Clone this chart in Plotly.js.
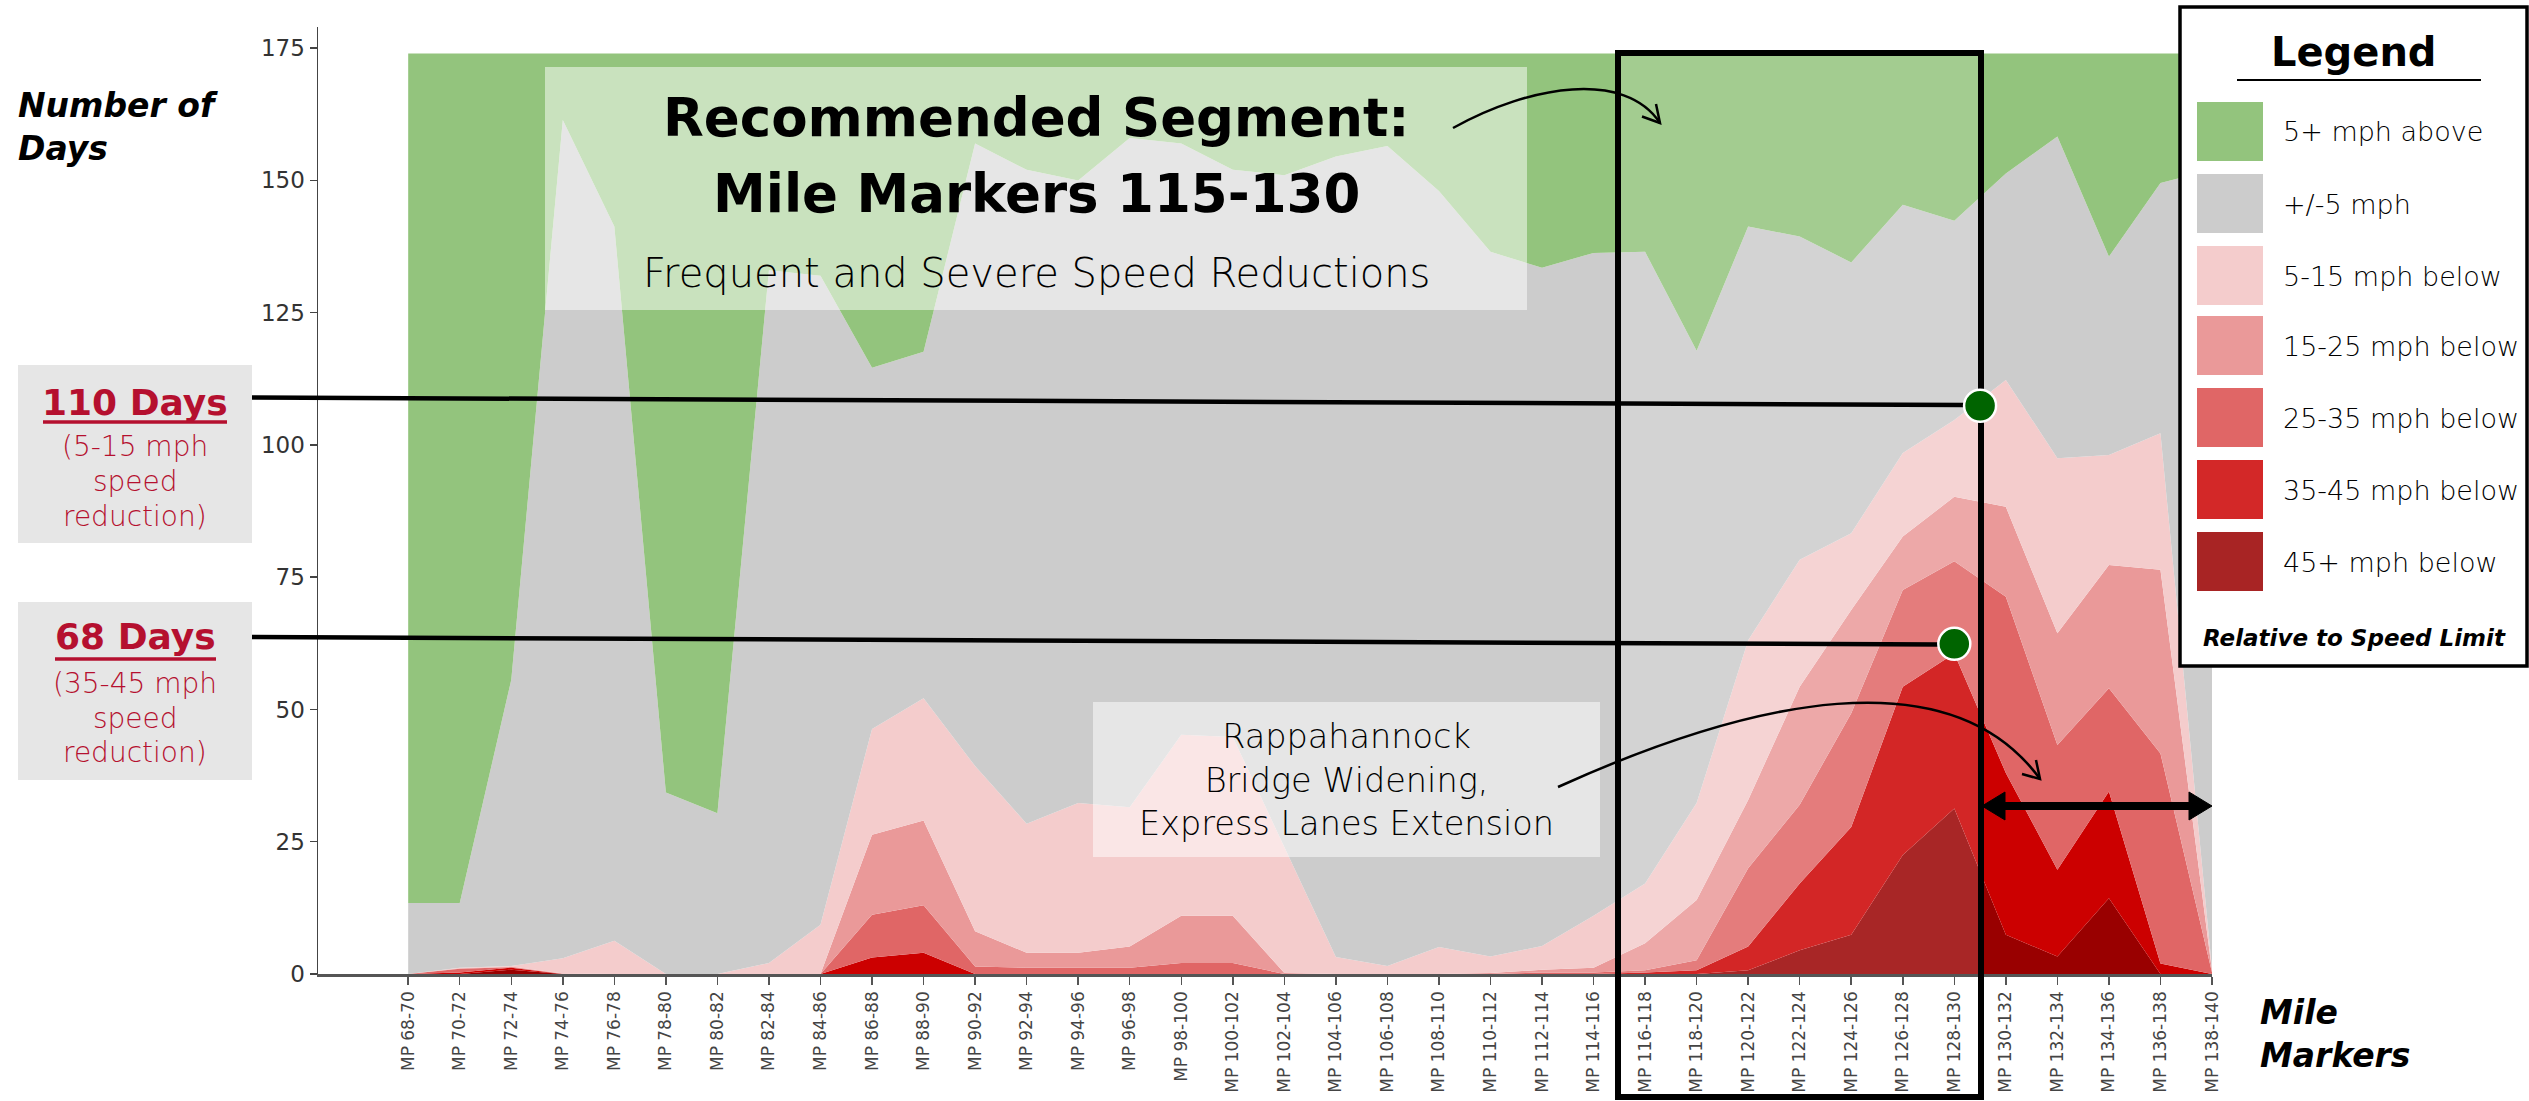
<!DOCTYPE html>
<html><head><meta charset="utf-8">
<script src="https://cdn.plot.ly/plotly-3.0.1.min.js"></script>
<style>html,body{margin:0;padding:0;background:#fff;overflow:hidden}#chart{width:2529px;height:1101px}</style>
</head><body><div id="chart"></div>
<script>
// ---------- DATA ----------
const categories = ['MP 68-70','MP 70-72','MP 72-74','MP 74-76','MP 76-78','MP 78-80','MP 80-82','MP 82-84','MP 84-86','MP 86-88','MP 88-90','MP 90-92','MP 92-94','MP 94-96','MP 96-98','MP 98-100','MP 100-102','MP 102-104','MP 104-106','MP 106-108','MP 108-110','MP 110-112','MP 112-114','MP 114-116','MP 116-118','MP 118-120','MP 120-122','MP 122-124','MP 124-126','MP 126-128','MP 128-130','MP 130-132','MP 132-134','MP 134-136','MP 136-138','MP 138-140'];

const below45plus = [0,0,0.8,0,0,0,0,0,0,0,0,0,0,0,0,0,0,0,0,0,0,0,0,0,0,0,0.7,4.5,7.4,22.5,31.3,7.4,3.3,14.3,0,0];
const below35to45 = [0,0.3,0.4,0,0,0,0,0,0,3.1,4,0,0,0,0,0,0,0,0,0,0,0,0,0,0.3,0.7,4.5,12.6,20.4,31.8,29.3,30.6,16.4,20.2,2,0];
const below25to35 = [0,0.7,0.1,0,0,0,0,0,0,8.1,9,1.4,1.2,1.2,1.2,2.1,2.1,0,0,0,0,0,0.3,0.3,0.4,1.9,14.8,14.9,21.5,18.3,17.4,33.3,23.6,19.5,39.7,0.3];
const below15to25 = [0,0.1,0.1,0.1,0,0,0,0,0,15.1,16,6.7,2.8,2.8,4,8.9,8.9,0.2,0,0,0,0.2,0.5,0.9,5.1,11.4,12.9,22.3,19.5,10.1,12.2,17,21.1,23.3,34.7,0.3];
const below5to15 = [0,0.1,0.1,2.9,6.3,0,0,2.1,9.3,20,23.1,31.2,24.4,28.3,26.3,34.2,33.8,23.7,3.2,1.5,5.1,3.1,4.5,9.8,11.3,18.3,30.2,24,14.5,15.8,14.5,24,33.1,20.8,25.8,0.4];
const within5 = [13.4,12.2,54.1,158.4,135,34.3,30.4,130.9,122.7,68.3,65.5,117.7,123.6,117.7,126.5,111.8,107.2,127.1,151.3,155,142.9,133.2,128.2,125.3,119.4,85.5,78.2,61.1,51.2,46.9,37.7,39,60.8,37.5,47.3,151];
const above5plus = [160.6,160.6,118.4,12.6,32.7,139.7,143.6,41,42,59.4,56.4,17,22,24,16,17,22,23,19.5,17.5,26,37.5,40.5,37.7,37.5,56.2,32.7,34.6,39.5,28.6,31.6,22.7,15.7,38.4,24.5,22];

const seriesNames = ['45+ mph below','35-45 mph below','25-35 mph below','15-25 mph below','5-15 mph below','+/-5 mph','5+ mph above'];
const seriesValues = [below45plus, below35to45, below25to35, below15to25, below5to15, within5, above5plus];
const seriesColors = ['#990000','#CC0000','#E06666','#EA9999','#F4CCCC','#CCCCCC','#93C47D'];
const legendColors = ['#A82424','#D32828','#E06666','#EA9999','#F4CCCC','#CCCCCC','#93C47D'];
const yTicks = [0,25,50,75,100,125,150,175];

// callout markers (category position, days)
const calloutPos = [30.5, 30];
const calloutDays = [107.4, 62.4];

// ---------- LAYOUT HELPERS ----------
const W=2529,H=1101,ML=318,MR=317,MT=27,MB=127;
const PW=W-ML-MR, PH=H-MT-MB;
const X = px => (px-ML)/PW;
const Y = py => (H-MB-py)/PH;
const P = (px,py) => X(px).toFixed(5)+','+Y(py).toFixed(5);
const FONT = 'DejaVu Sans, sans-serif';
const CRIMSON = '#B5102F';

const xIdx = categories.map((c,i)=>i);

const traces = seriesValues.map((vals,k)=>({
  type:'scatter', mode:'lines', x:xIdx, y:vals, name:seriesNames[k],
  stackgroup:'one', line:{width:0, color:seriesColors[k]}, fillcolor:seriesColors[k],
  hoverinfo:'skip', showlegend:false
}));

const shapes = [];
const rectP = (x0,y0,x1,y1,fill,lineW,lineC)=>({type:'rect',xref:'paper',yref:'paper',x0:X(x0),x1:X(x1),y0:Y(y1),y1:Y(y0),fillcolor:fill,line:{width:lineW||0,color:lineC||'rgba(0,0,0,0)'},layer:'above'});
const lineP = (x0,y0,x1,y1,w,c)=>({type:'line',xref:'paper',yref:'paper',x0:X(x0),x1:X(x1),y0:Y(y0),y1:Y(y1),line:{width:w,color:c||'#000'},layer:'above'});
const pathP = (d,w,fill)=>({type:'path',xref:'paper',yref:'paper',path:d,line:{width:w,color:'#000'},fillcolor:fill||'rgba(0,0,0,0)',layer:'above'});

// title highlight box
shapes.push(rectP(545,67,1527,310,'rgba(255,255,255,0.5)'));
// recommended segment overlay
shapes.push(rectP(1618,53,1981,974,'rgba(255,255,255,0.15)'));
// Rappahannock box
shapes.push(rectP(1093,702,1600,857,'rgba(255,255,255,0.5)'));
// left label boxes
shapes.push(rectP(18,365,252,543,'#E6E6E6'));
shapes.push(rectP(18,602,252,780,'#E6E6E6'));
// underlines
shapes.push(lineP(43,422,227,422,3.5,CRIMSON));
shapes.push(lineP(55,659,216,659,3.5,CRIMSON));
// connector lines
shapes.push(lineP(252,397.5,1965,405,4.5));
shapes.push(lineP(252,637,1940,644.5,4.5));
// segment box
shapes.push({type:'rect',xref:'paper',yref:'paper',x0:X(1618),x1:X(1981),y0:Y(1097),y1:Y(53),line:{width:6,color:'#000'},fillcolor:'rgba(0,0,0,0)',layer:'above'});
// curved arrow 1
shapes.push(pathP('M '+P(1453,128)+' C '+P(1530,85)+' '+P(1625,70)+' '+P(1660,123),2.5));
shapes.push(pathP('M '+P(1642,116.5)+' L '+P(1660,123)+' L '+P(1656,104),2.5));
// curved arrow 2
shapes.push(pathP('M '+P(1558,787)+' C '+P(1750,700)+' '+P(1950,655)+' '+P(2040,779),2.5));
shapes.push(pathP('M '+P(2022,774)+' L '+P(2040,779)+' L '+P(2036,760),2.5));
// double arrow
shapes.push(lineP(2002,806,2191,806,8));
shapes.push(pathP('M '+P(1982,806)+' L '+P(2005,792)+' L '+P(2005,820)+' Z',1,'#000'));
shapes.push(pathP('M '+P(2212,806)+' L '+P(2189,792)+' L '+P(2189,820)+' Z',1,'#000'));
// callout dots
calloutPos.forEach((xp,i)=>{
  shapes.push({type:'circle',xref:'x',yref:'y',xsizemode:'pixel',ysizemode:'pixel',xanchor:xp,yanchor:calloutDays[i],x0:-16,x1:16,y0:-16,y1:16,fillcolor:'#006400',line:{width:2.5,color:'#fff'},layer:'above'});
});
// legend box
shapes.push(rectP(2180,7,2527,666,'#fff',3.5,'#000'));
shapes.push(lineP(2237,80,2481,80,2));
const swatchTop = [102,174,246,316,388,460,532];
const legendOrder = [6,5,4,3,2,1,0];

const annotations = [];
const ann = (px,py,text,opts)=>Object.assign({xref:'paper',yref:'paper',x:X(px),y:Y(py),text:text,showarrow:false,xanchor:'center',yanchor:'middle',font:{family:FONT,size:20,color:'#000'}},opts||{});

annotations.push(ann(1036,118,'Recommended Segment:',{font:{family:FONT,size:53,color:'#000',weight:'bold'}}));
annotations.push(ann(1036,194,'Mile Markers 115-130',{font:{family:FONT,size:53,color:'#000',weight:'bold'}}));
annotations.push(ann(1036,273,'Frequent and Severe Speed Reductions',{font:{family:FONT,size:40,color:'#000',weight:300}}));
annotations.push(ann(16,127,'Number of<br>Days',{xanchor:'left',align:'left',font:{family:FONT,size:33,color:'#000',weight:'bold',style:'italic'}}));
annotations.push(ann(2258,1034,'Mile<br>Markers',{xanchor:'left',align:'left',font:{family:FONT,size:33,color:'#000',weight:'bold',style:'italic'}}));
annotations.push(ann(135,402,'110 Days',{font:{family:FONT,size:36,color:CRIMSON,weight:'bold'}}));
['(5-15 mph','speed','reduction)'].forEach((t,i)=>annotations.push(ann(135,[446,482,516][i],t,{font:{family:FONT,size:28,color:CRIMSON,weight:300}})));
annotations.push(ann(135,636,'68 Days',{font:{family:FONT,size:36,color:CRIMSON,weight:'bold'}}));
['(35-45 mph','speed','reduction)'].forEach((t,i)=>annotations.push(ann(135,[683,718,752][i],t,{font:{family:FONT,size:28,color:CRIMSON,weight:300}})));
annotations.push(ann(1346,780,'Rappahannock<br>Bridge Widening,<br>Express Lanes Extension',{font:{family:FONT,size:33.5,color:'#000',weight:300}}));
annotations.push(ann(2354,52,'Legend',{font:{family:FONT,size:40,color:'#000',weight:'bold'}}));
annotations.push(ann(2354,638,'Relative to Speed Limit',{font:{family:FONT,size:23,color:'#000',weight:'bold',style:'italic'}}));
legendOrder.forEach((k,j)=>{
  shapes.push(rectP(2197,swatchTop[j],2263,swatchTop[j]+59,legendColors[k]));
  annotations.push(ann(2281,swatchTop[j]+30,seriesNames[k],{xanchor:'left',font:{family:FONT,size:27,color:'#000',weight:300}}));
});

const layout = {
  width:W,height:H,margin:{l:ML,r:MR,t:MT,b:MB,pad:0},
  paper_bgcolor:'#fff',plot_bgcolor:'#fff',showlegend:false,
  xaxis:{range:[-1.75,35],tickmode:'array',tickvals:xIdx,ticktext:categories,tickangle:-90,
    showgrid:false,zeroline:false,showline:true,linecolor:'#555',linewidth:2.5,
    ticks:'outside',ticklen:8,tickwidth:1.5,tickcolor:'#555',
    tickfont:{family:FONT,size:17,color:'#444'}},
  yaxis:{range:[0,179],tickmode:'array',tickvals:yTicks,ticktext:yTicks.map(String),
    showgrid:false,zeroline:false,showline:true,linecolor:'#444',linewidth:1.5,
    ticks:'outside',ticklen:7,tickwidth:1.5,tickcolor:'#444',
    tickfont:{family:FONT,size:23,color:'#333'}},
  shapes:shapes,annotations:annotations
};
Plotly.newPlot('chart',traces,layout,{staticPlot:true,displayModeBar:false});
</script></body></html>
